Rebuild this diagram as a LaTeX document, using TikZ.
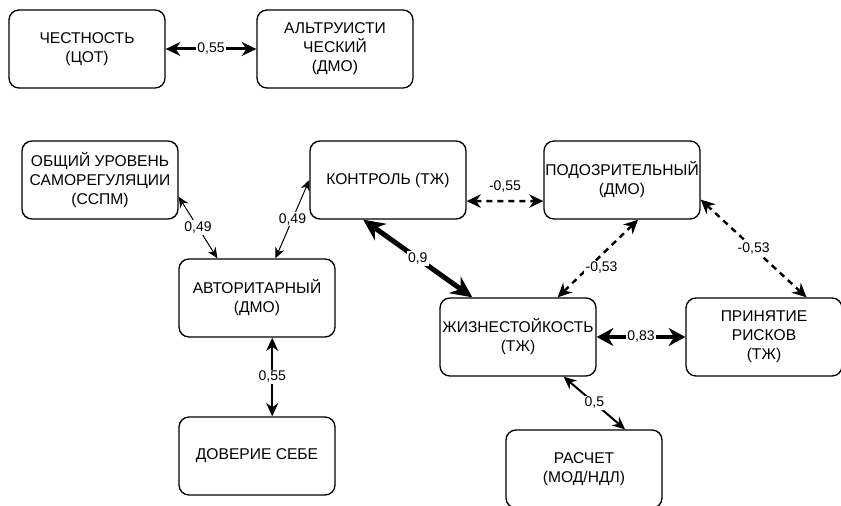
\documentclass[tikz,border=0pt]{standalone}
\usepackage{fontspec}
\setmainfont{Liberation Sans}
\usetikzlibrary{arrows.meta}

\begin{document}
\begin{tikzpicture}[x=0.75pt, y=-0.75pt,
  box/.style={draw, rounded corners=7.5pt, line width=1pt, minimum width=117pt,
    minimum height=58.5pt, align=center, inner sep=1pt,
    font=\fontsize{11.7}{14.3}\selectfont},
  lbl/.style={fill=white, inner sep=1pt, font=\fontsize{10.5}{12}\selectfont},
  w1/.style={line width=0.75pt, <->, >={Stealth[length=8pt,width=7pt]}},
  w2/.style={line width=1.5pt, <->, >={Stealth[length=9.5pt,width=8.5pt]}},
  w3/.style={line width=1.9pt, <->, >={Stealth[length=10pt,width=9pt]}},
  w4/.style={line width=2.25pt, <->, >={Stealth[length=11pt,width=10.5pt]}},
  w5/.style={line width=3pt, <->, >={Stealth[length=12.5pt,width=13.5pt]}},
  w6/.style={line width=3.75pt, <->, >={Stealth[length=16pt,width=15pt]}},
  neg/.style={line width=1.8pt, dash pattern=on 4.5pt off 3.75pt, <->,
    >={Stealth[length=10.5pt,width=10pt]}}]
\useasboundingbox (0,0) rectangle (841,506);

\node[box] (chest)   at (87,49)   {ЧЕСТНОСТЬ\\(ЦОТ)};
\node[box] (altr)    at (335,49)  {АЛЬТРУИСТИ\\ЧЕСКИЙ\\(ДМО)};
\node[box] (obsh)    at (100,180) {ОБЩИЙ УРОВЕНЬ\\САМОРЕГУЛЯЦИИ\\(ССПМ)};
\node[box] (kontr)   at (388,180) {КОНТРОЛЬ (ТЖ)};
\node[box] (podoz)   at (622,180) {ПОДОЗРИТЕЛЬНЫЙ\\(ДМО)};
\node[box] (avt)     at (257,298) {АВТОРИТАРНЫЙ\\(ДМО)};
\node[box] (zhizn)   at (518,337) {ЖИЗНЕСТОЙКОСТЬ\\(ТЖ)};
\node[box] (prin)    at (764,337) {ПРИНЯТИЕ\\РИСКОВ\\(ТЖ)};
\node[box] (dover)   at (257,456) {ДОВЕРИЕ СЕБЕ};
\node[box] (raschet) at (584,469) {РАСЧЕТ\\(МОД/НДЛ)};

\draw[w4] (chest.east) -- (altr.west) node[lbl, midway]{0,55};
\draw[w1] (obsh.-12) -- (avt.135) node[lbl, midway]{0,49};
\draw[w1] (avt.65) -- (kontr.west) node[lbl, midway]{0,49};
\draw[w6] (kontr.-122) -- (zhizn.139) node[lbl, midway]{0,9};
\draw[neg] (kontr.-15) -- (podoz.195) node[midway, above=2pt, font=\fontsize{10.5}{12}\selectfont]{-0,55};
\draw[neg] (podoz.-68) -- (zhizn.45) node[lbl, pos=0.62, xshift=10pt]{-0,53};
\draw[neg] (podoz.-14) -- (prin.43) node[lbl, midway]{-0,53};
\draw[w5] (zhizn.east) -- (prin.west) node[lbl, midway]{0,83};
\draw[w2] (zhizn.-41) -- (raschet.44) node[lbl, midway]{0,5};
\draw[w3] (avt.-69) -- (dover.69) node[lbl, midway]{0,55};
\end{tikzpicture}
\end{document}
